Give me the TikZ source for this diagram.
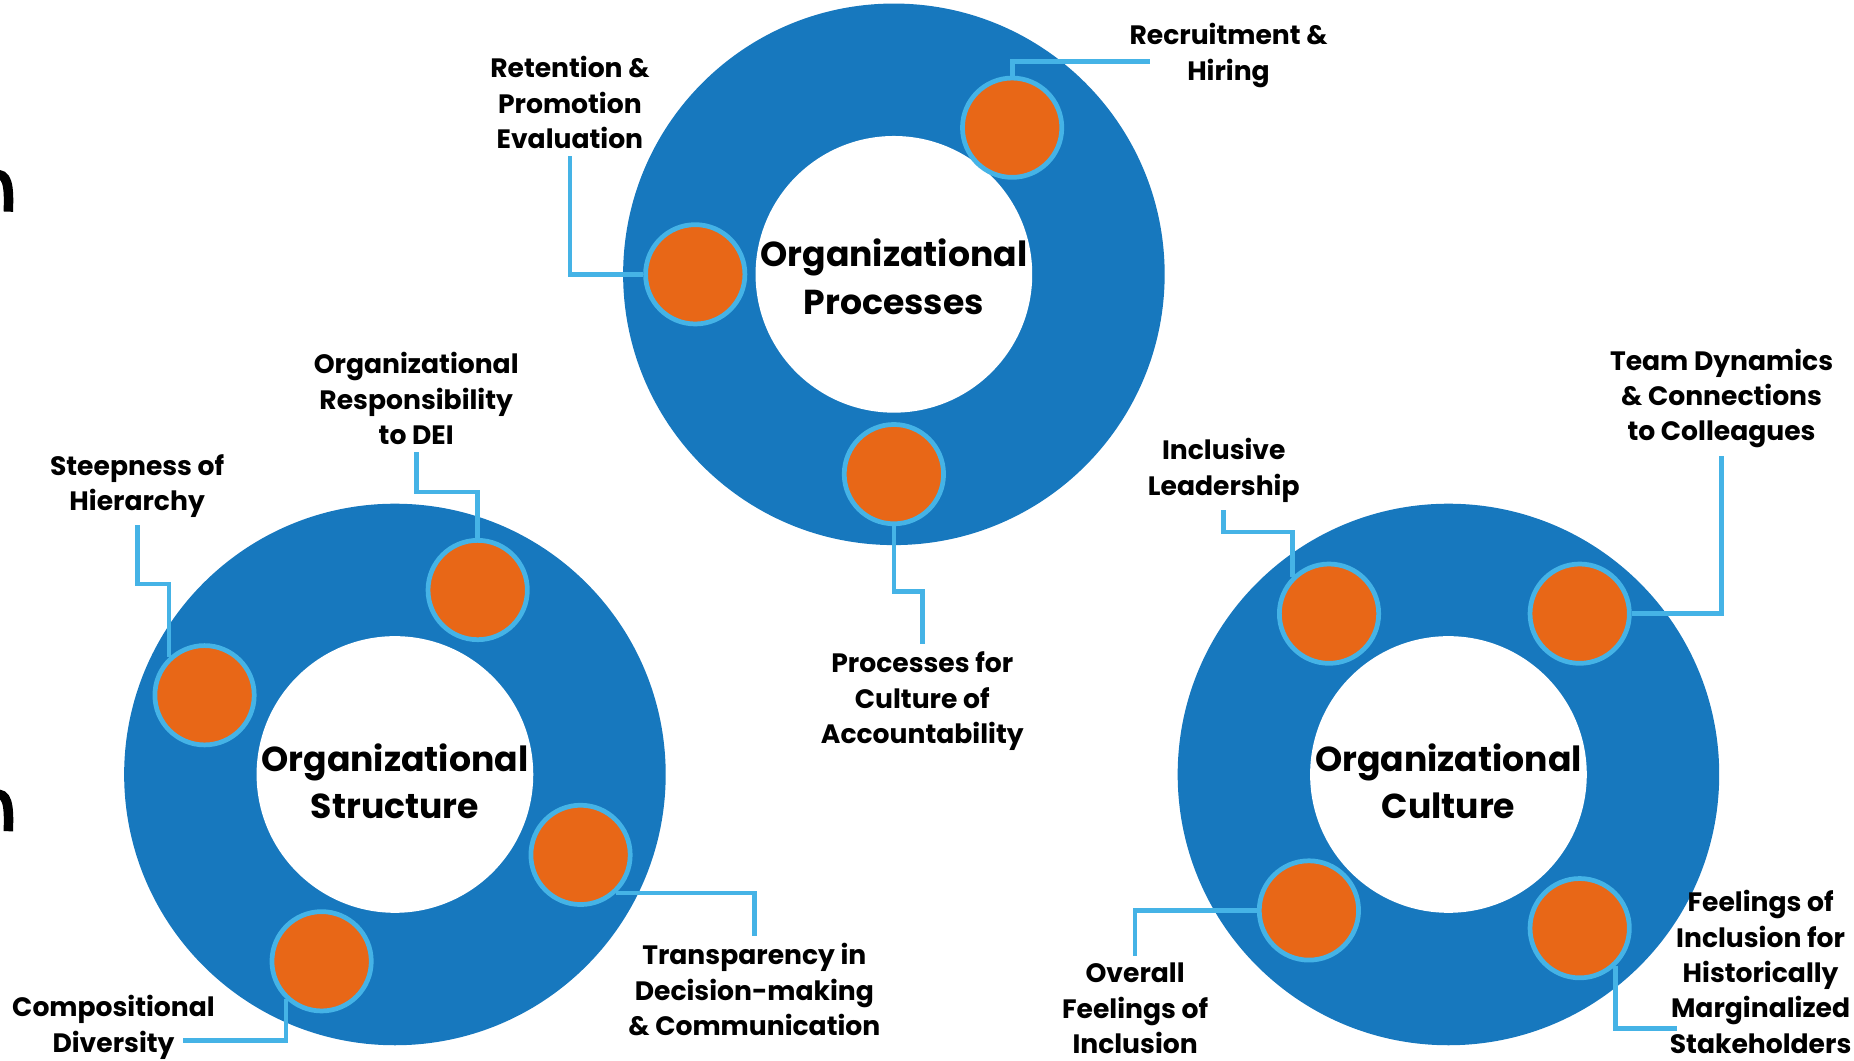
\documentclass[tikz,border=0pt]{standalone}
\usepackage{fontspec}
\setmainfont{Poppins}
\usetikzlibrary{positioning}

\definecolor{ringblue}{HTML}{1778BE}
\definecolor{dotorange}{HTML}{E86717}
\definecolor{linkblue}{HTML}{45B3E6}

\begin{document}
\begin{tikzpicture}[x=1pt, y=-1pt,
    dot/.style={circle, draw=linkblue, line width=4pt, fill=dotorange, minimum size=84pt, inner sep=0pt},
    link/.style={linkblue, line width=4pt},
    lbl/.style={font=\fontsize{22.5}{30}\selectfont\bfseries, align=center, inner sep=6pt},
    hub/.style={font=\fontsize{29.3}{40}\selectfont\bfseries, align=center, inner sep=0pt}]
      \useasboundingbox (0,0) rectangle (1568,897);

      % clipped glyphs on the left edge
      \draw[line width=8pt] (-4,148) .. controls (6,146) and (8,156) .. (7,179);
      \draw[line width=8pt] (-4,672) .. controls (6,670) and (8,680) .. (7,703);

      % the three rings
      \fill[ringblue] (756,232) circle (229pt);
      \fill[white] (756,232) circle (117pt);
      \fill[ringblue] (334,655) circle (229pt);
      \fill[white] (334,655) circle (117pt);
      \fill[ringblue] (1225,655) circle (229pt);
      \fill[white] (1225,655) circle (117pt);
      \node[hub] (proc) at (756,234) {Organizational\\Processes};
      \node[hub] (struct) at (334,661) {Organizational\\Structure};
      \node[hub] (cult) at (1225,661) {Organizational\\Culture};

      % Processes
      \node[dot] (recdot) at (856,108) {};
      \node[dot] (retdot) at (588,232) {};
      \node[dot] (accdot) at (756,401) {};
      \node[lbl] (rectxt) at (1039,47) {Recruitment \&\\Hiring};
      \node[lbl] (rettxt) at (482,87) {Retention \&\\Promotion\\Evaluation};
      \node[lbl] (acctxt) at (780,593) {Processes for\\Culture of\\Accountability};
      \coordinate (recend) at (973,52);
      \draw[link] (recdot.north) |- (recend);
      \draw[link] (retdot.west) -| (rettxt.south);
      \draw[link] (accdot.south) -- ++(0,55) -| (acctxt.north);

      % Structure
      \node[dot] (respdot) at (404,499) {};
      \node[dot] (steepdot) at (173,588) {};
      \node[dot] (transdot) at (491,723) {};
      \node[dot] (compdot) at (272,813) {};
      \node[lbl] (resptxt) at (352,337) {Organizational\\Responsibility\\to DEI};
      \node[lbl] (steeptxt) at (116,411) {Steepness of\\Hierarchy};
      \node[lbl] (transtxt) at (638,837) {Transparency in\\Decision-making\\\& Communication};
      \node[lbl] (comptxt) at (96,869) {Compositional\\Diversity};
      \coordinate (compend) at (155,880);
      \draw[link] (respdot.north) -- ++(0,-39) -| (resptxt.south);
      \draw[link] (steepdot.133) -- ++(0,-62) -| (steeptxt.south);
      \draw[link] (transdot.-47) -| (transtxt.north);
      \draw[link] (compdot.227) |- (compend);

      % Culture
      \node[dot] (incdot) at (1124,519) {};
      \node[dot] (teamdot) at (1336,519) {};
      \node[dot] (overdot) at (1107,770) {};
      \node[dot] (margdot) at (1336,785) {};
      \node[lbl] (inctxt) at (1035,398) {Inclusive\\Leadership};
      \node[lbl] (teamtxt) at (1456,337) {Team Dynamics\\\& Connections\\to Colleagues};
      \node[lbl] (overtxt) at (960,853) {Overall\\Feelings of\\Inclusion};
      \node[lbl] (margtxt) at (1489,822) {Feelings of\\Inclusion for\\Historically\\Marginalized\\Stakeholders};
      \coordinate (margend) at (1418,870);
      \draw[link] (incdot.135) -- ++(0,-38) -| (inctxt.south);
      \draw[link] (teamdot.east) -| (teamtxt.south);
      \draw[link] (overdot.west) -| (overtxt.north);
      \draw[link] (margdot.-47) |- (margend);
    \end{tikzpicture}
\end{document}
